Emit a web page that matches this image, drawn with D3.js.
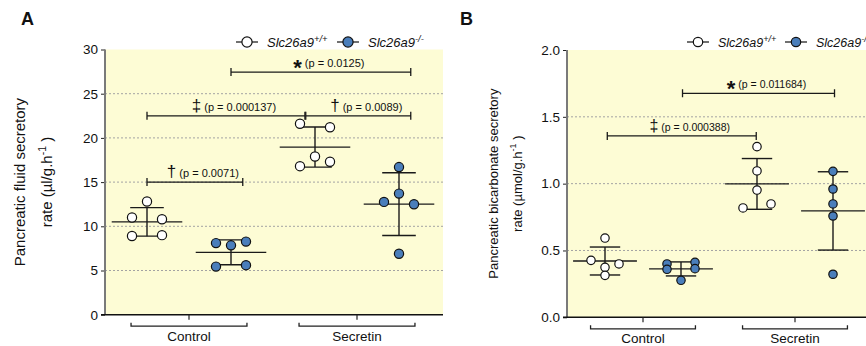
<!DOCTYPE html>
<html>
<head>
<meta charset="utf-8">
<script src="https://cdn.jsdelivr.net/npm/d3@7"></script>
<style>
  body { margin: 0; background: #fff; }
  text { font-family: Arial, "Liberation Sans", sans-serif; fill: #111; }
</style>
</head>
<body>
<svg id="chart" width="866" height="346"></svg>
<script>
// groups: genotype within treatment
var treatments = ["Control", "Secretin"];
var genotypes = ["+/+", "-/-"];

// A - pancreatic fluid secretory rate (µl/g.h-1)
var fluidWtControl = [12.8, 11.0, 10.8, 8.9, 9.0];
var fluidKoControl = [8.1, 7.85, 8.27, 5.44, 5.6];
var fluidWtSecretin = [21.6, 21.2, 17.9, 16.8, 17.3];
var fluidKoSecretin = [16.7, 13.7, 12.76, 12.5, 6.9];
var fluidTicks = [0, 5, 10, 15, 20, 25, 30];
var fluidSig = [
  { sym: "†", p: "(p = 0.0071)", from: 0, to: 1.14, y: 15 },
  { sym: "‡", p: "(p = 0.000137)", from: 0, to: 1.88, y: 22.5 },
  { sym: "†", p: "(p = 0.0089)", from: 1.89, to: 3.14, y: 22.5 },
  { sym: "*", p: "(p = 0.0125)", from: 1, to: 3.14, y: 27.45 }
];

// B - pancreatic bicarbonate secretory rate (µmol/g.h-1)
var bicWtControl = [0.593, 0.426, 0.374, 0.399, 0.314];
var bicKoControl = [0.399, 0.411, 0.359, 0.364, 0.277];
var bicWtSecretin = [1.277, 1.095, 0.952, 0.818, 0.848];
var bicKoSecretin = [1.092, 0.96, 0.848, 0.758, 0.322];
var bicTicks = [0, 0.5, 1.0, 1.5, 2.0];
var bicSig = [
  { sym: "‡", p: "(p = 0.000388)", from: 0.03, to: 1.99, y: 1.357 },
  { sym: "*", p: "(p = 0.011684)", from: 1.02, to: 3.02, y: 1.676 }
];

var blue = "#4a7ebb";
var svg = d3.select("#chart");

function drawPanel(cfg) {
  var g = svg.append("g");
  var x = d3.scaleLinear().domain([-0.5, 3.5]).range([cfg.left, cfg.right]);
  var y = d3.scaleLinear().domain(d3.extent(cfg.ticks)).range([cfg.bottom, cfg.top]);
  var step = x(1) - x(0);

  g.append("rect")
    .attr("x", cfg.left).attr("y", cfg.top)
    .attr("width", cfg.right - cfg.left + 2).attr("height", cfg.bottom - cfg.top)
    .attr("fill", "#fdfcd5");

  // dashed grid
  g.selectAll(".grid").data(cfg.ticks.slice(1, -1)).enter().append("line")
    .attr("x1", cfg.left).attr("x2", cfg.right + 2)
    .attr("y1", d => y(d)).attr("y2", d => y(d))
    .attr("stroke", "#a3a3a3").attr("stroke-width", 1).attr("stroke-dasharray", "2,2");

  // y axis
  var ax = g.append("g").attr("transform", "translate(" + cfg.left + ",0)")
    .call(d3.axisLeft(y).tickValues(cfg.ticks).tickFormat(cfg.fmt).tickSize(4).tickPadding(3));
  ax.select(".domain").remove();
  ax.selectAll("text").style("font-size", "13.5px").style("font-family", "Arial, 'Liberation Sans', sans-serif");
  ax.selectAll("line").attr("stroke", "#222");
  g.append("line").attr("x1", cfg.left).attr("x2", cfg.left)
    .attr("y1", cfg.top).attr("y2", cfg.bottom)
    .attr("stroke", "#7a7a7a").attr("stroke-width", 2);
  g.append("line").attr("x1", cfg.left - 4).attr("x2", cfg.right + 2)
    .attr("y1", cfg.bottom).attr("y2", cfg.bottom)
    .attr("stroke", "#111").attr("stroke-width", 1.5);

  // y title
  var cy = (cfg.top + cfg.bottom) / 2;
  cfg.title.forEach(function(line, i) {
    var t = g.append("text")
      .attr("transform", "translate(" + cfg.titleX[i] + "," + cy + ") rotate(-90)")
      .attr("text-anchor", "middle").style("font-size", cfg.titleSize + "px");
    t.append("tspan").text(line[0]);
    if (line[1]) {
      t.append("tspan").attr("dy", -6).style("font-size", (cfg.titleSize * 0.7) + "px").text(line[1]);
      t.append("tspan").attr("dy", 6).text(" " + line[2]);
    }
  });

  // category ticks and brackets
  treatments.forEach(function(tr, i) {
    var c = (x(2 * i) + x(2 * i + 1)) / 2;
    var hw = step * 0.69;
    g.append("line").attr("x1", c).attr("x2", c).attr("y1", cfg.bottom).attr("y2", cfg.bottom + 5)
      .attr("stroke", "#222").attr("stroke-width", 1.2);
    g.append("path")
      .attr("d", "M" + (c - hw) + "," + (cfg.bottom + 8) + "V" + (cfg.bottom + 11.5) + "H" + (c + hw) + "V" + (cfg.bottom + 8))
      .attr("fill", "none").attr("stroke", "#222").attr("stroke-width", 1.3);
    g.append("text").attr("x", c).attr("y", cfg.bottom + 26)
      .attr("text-anchor", "middle").style("font-size", "13.5px").text(tr);
  });

  // points, mean and SD
  cfg.groups.forEach(function(vals, gi) {
    var cx = x(gi);
    var m = d3.mean(vals), sd = d3.deviation(vals);
    var col = g.append("g").attr("stroke", "#1a1a1a").attr("stroke-width", 1.4);
    col.append("line").attr("x1", cx - step * 0.42).attr("x2", cx + step * 0.42).attr("y1", y(m)).attr("y2", y(m));
    col.append("line").attr("x1", cx).attr("x2", cx).attr("y1", y(m + sd)).attr("y2", y(m - sd));
    [m + sd, m - sd].forEach(function(v) {
      col.append("line").attr("x1", cx - step * 0.2).attr("x2", cx + step * 0.2).attr("y1", y(v)).attr("y2", y(v));
    });

    // spread points that share a row, like the prism scatter
    var idx = d3.range(vals.length).sort((a, b) => vals[a] - vals[b]);
    var rows = [], cur = [idx[0]];
    for (var i = 1; i < idx.length; i++) {
      if (Math.abs(y(vals[idx[i]]) - y(vals[idx[i - 1]])) < 4.6) cur.push(idx[i]);
      else { rows.push(cur); cur = [idx[i]]; }
    }
    rows.push(cur);
    var off = vals.map(() => 0);
    rows.forEach(function(r) {
      r.sort((a, b) => a - b);
      r.forEach(function(k, j) { off[k] = r.length == 2 ? (j == 0 ? -1 : 1) : j - (r.length - 1) / 2; });
    });

    g.selectAll(".pt" + gi).data(vals).enter().append("circle")
      .attr("cx", (d, i) => cx + off[i] * cfg.slot)
      .attr("cy", d => y(d))
      .attr("r", cfg.r)
      .attr("fill", gi % 2 == 0 ? "#fff" : blue)
      .attr("stroke", "#111").attr("stroke-width", 1.2);
  });

  // significance brackets
  cfg.sig.forEach(function(s) {
    var x1 = cfg.sx(s.from), x2 = cfg.sx(s.to), yy = y(s.y);
    g.append("path")
      .attr("d", "M" + x1 + "," + (yy - 4) + "V" + (yy + 4) + "M" + x1 + "," + yy + "H" + x2 + "M" + x2 + "," + (yy - 4) + "V" + (yy + 4))
      .attr("fill", "none").attr("stroke", "#1a1a1a").attr("stroke-width", 1.3);
    var t = g.append("text").attr("x", (x1 + x2) / 2 + 8).attr("y", yy - 5)
      .attr("text-anchor", "middle").style("font-size", cfg.pSize + "px");
    if (s.sym == "*") {
      t.append("tspan").attr("dy", 8).style("font-size", "22px").style("font-weight", "bold").text("*");
      t.append("tspan").attr("dy", -8).text("  " + s.p);
    } else {
      t.append("tspan").style("font-size", cfg.symSize + "px").text(s.sym);
      t.append("tspan").text("  " + s.p);
    }
  });

  // legend
  genotypes.forEach(function(gt, i) {
    var lx = cfg.legendX + i * cfg.legendGap, ly = 42;
    g.append("line").attr("x1", lx - 11).attr("x2", lx + 11).attr("y1", ly).attr("y2", ly)
      .attr("stroke", "#111").attr("stroke-width", 1.2);
    g.append("circle").attr("cx", lx).attr("cy", ly).attr("r", cfg.r + 0.5)
      .attr("fill", i == 0 ? "#fff" : blue).attr("stroke", "#111").attr("stroke-width", 1.2);
    var t = g.append("text").attr("x", lx + 20).attr("y", ly + 4.5)
      .style("font-size", cfg.legendSize + "px").style("font-style", "italic");
    t.append("tspan").text("Slc26a9");
    t.append("tspan").attr("dy", -5).style("font-size", (cfg.legendSize * 0.72) + "px").text(gt);
  });

  svg.append("text").attr("x", cfg.letterX).attr("y", 25)
    .style("font-size", "18px").style("font-weight", "bold").text(cfg.letter);

  return g;
}

var xa = d3.scaleLinear().domain([-0.5, 3.5]).range([105, 441]);
drawPanel({
  letter: "A", letterX: 21,
  left: 105, right: 441, top: 49.5, bottom: 314.7,
  ticks: fluidTicks, fmt: d3.format("d"),
  groups: [fluidWtControl, fluidKoControl, fluidWtSecretin, fluidKoSecretin],
  sig: fluidSig, sx: xa, pSize: 11, symSize: 17,
  title: [["Pancreatic fluid secretory"], ["rate (µl/g.h", "-1", ")"]],
  titleX: [25, 52], titleSize: 15,
  r: 4.6, slot: 15,
  legendX: 247, legendGap: 101, legendSize: 13
});

var xb = d3.scaleLinear().domain([-0.5, 3.5]).range([567, 871]);
drawPanel({
  letter: "B", letterX: 460,
  left: 567, right: 871, top: 50, bottom: 317.3,
  ticks: bicTicks, fmt: d3.format(".1f"),
  groups: [bicWtControl, bicKoControl, bicWtSecretin, bicKoSecretin],
  sig: bicSig, sx: xb, pSize: 10.5, symSize: 16,
  title: [["Pancreatic bicarbonate secretory"], ["rate (µmol/g.h", "-1", ")"]],
  titleX: [498, 522], titleSize: 13,
  r: 4.2, slot: 14,
  legendX: 698, legendGap: 98, legendSize: 12.5
});
</script>
</body>
</html>
